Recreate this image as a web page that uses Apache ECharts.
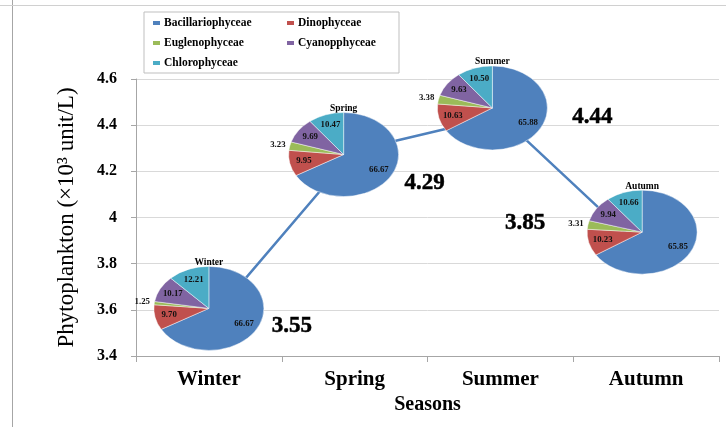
<!DOCTYPE html>
<html>
<head>
<meta charset="utf-8">
<script src="https://cdn.jsdelivr.net/npm/echarts@6/dist/echarts.min.js"></script>
<style>html,body{margin:0;padding:0;background:#fff}#c{width:726px;height:427px}</style>
</head>
<body>
<div id="c"></div>
<script>
// ---- data ----
const seasons = ['Winter', 'Spring', 'Summer', 'Autumn'];
const totals = [3.55, 4.29, 4.44, 3.85];
const groups = ['Bacillariophyceae', 'Dinophyceae', 'Euglenophyceae', 'Cyanopphyceae', 'Chlorophyceae'];
const bacillario = [66.67, 66.67, 65.88, 65.85];
const dino = [9.70, 9.95, 10.63, 10.23];
const eugleno = [1.25, 3.23, 3.38, 3.31];
const cyano = [10.17, 9.69, 9.63, 9.94];
const chloro = [12.21, 10.47, 10.50, 10.66];
const yTicks = {min: 3.4, max: 4.6, step: 0.2};

// ---- layout / style ----
const shareSets = [bacillario, dino, eugleno, cyano, chloro];
const colors = ['#4F81BD', '#C0504D', '#9BBB59', '#8064A2', '#4BACC6'];
const pieShift = [[0, -13], [-11, 4], [-8, -8], [-4, -20]];
const valueLabelShift = [[83, 5], [70, 33], [92, 1], [-121, -29]];
const RX = 55, RY = 42;
const SERIF = '"Liberation Serif", "DejaVu Serif", serif';

function renderSlice(g, i, api) {
  const p = api.coord([api.value(0), api.value(1)]);
  const cx = p[0] + pieShift[i][0];
  const cy = p[1] + pieShift[i][1];
  let sum = 0, cum = 0;
  for (let k = 0; k < shareSets.length; k++) {
    sum += shareSets[k][i];
    if (k < g) cum += shareSets[k][i];
  }
  const v = api.value(2);
  const a0 = -Math.PI / 2 + 2 * Math.PI * cum / sum;
  const a1 = a0 + 2 * Math.PI * v / sum;
  const mid = (a0 + a1) / 2;
  const f = g === 2 ? 1.22 : 0.74;
  const children = [{
    type: 'sector',
    x: cx, y: cy, scaleX: RX / RY, scaleY: 1,
    shape: {cx: 0, cy: 0, r0: 0, r: RY, startAngle: a0, endAngle: a1, clockwise: true},
    style: {fill: colors[g], stroke: '#ffffff', lineWidth: 0.4}
  }, {
    type: 'text',
    x: cx + Math.cos(mid) * RX * f,
    y: cy + Math.sin(mid) * RY * f,
    style: {text: v.toFixed(2), fill: '#111', fontFamily: SERIF, fontWeight: 'bold', fontSize: 8.8,
            align: 'center', verticalAlign: 'middle'}
  }];
  if (g === 0) {
    children.push({
      type: 'text', x: cx, y: cy - RY - 4,
      style: {text: seasons[i], fill: '#000', fontFamily: SERIF, fontWeight: 'bold', fontSize: 9.5,
              align: 'center', verticalAlign: 'middle'}
    });
  }
  return {type: 'group', children: children};
}

const chart = echarts.init(document.getElementById('c'), null, {renderer: 'canvas'});
const series = [{
  type: 'line',
  z: 2,
  data: totals,
  showSymbol: true,
  symbol: 'circle',
  symbolSize: 4,
  lineStyle: {color: colors[0], width: 2.5},
  itemStyle: {color: colors[0]},
  label: {show: false},
  silent: true
}, {
  type: 'scatter',
  z: 4,
  data: totals,
  symbol: 'circle',
  symbolSize: 2,
  itemStyle: {color: 'rgba(0,0,0,0)'},
  label: {show: true, position: 'inside', color: '#000', opacity: 1, fontFamily: SERIF, fontWeight: 'bold', fontSize: 23,
          textBorderColor: '#000', textBorderWidth: 0.5,
          formatter: p => Number(p.value).toFixed(2)},
  labelLayout: function (params) {
    const d = valueLabelShift[params.dataIndex];
    return {dx: d[0], dy: d[1], hideOverlap: false, moveOverlap: null};
  },
  silent: true
}];
groups.forEach((name, g) => {
  series.push({
    type: 'custom',
    name: name,
    z: 3,
    itemStyle: {color: colors[g]},
    encode: {x: 0, y: 1},
    data: seasons.map((s, i) => [i, totals[i], shareSets[g][i]]),
    renderItem: function (params, api) {
      return renderSlice(g, params.dataIndex, api);
    },
    silent: true
  });
});

const legendWideCol = {width: 115};
const legendNarrowCol = {width: 95};
chart.setOption({
  animation: false,
  backgroundColor: '#ffffff',
  grid: {left: 136, right: 7, top: 79, bottom: 71},
  legend: {
    data: groups.map((n, k) => ({name: n, textStyle: (k === 1 || k === 3) ? legendNarrowCol : legendWideCol})),
    left: 144, top: 12, width: 250,
    orient: 'horizontal',
    padding: [5, 6, 4, 9],
    itemGap: 8,
    itemWidth: 7, itemHeight: 4, icon: 'rect',
    backgroundColor: '#fff', borderColor: '#bfbfbf', borderWidth: 1, borderRadius: 0,
    textStyle: {fontFamily: SERIF, fontWeight: 'bold', fontSize: 11.5, color: '#000', lineHeight: 11.5, padding: [0,0,0,-1]}
  },
  xAxis: {
    type: 'category', data: seasons, boundaryGap: true,
    axisLine: {lineStyle: {color: '#a6a6a6'}},
    axisTick: {show: true, length: 6, alignWithLabel: false, lineStyle: {color: '#a6a6a6'}},
    axisLabel: {color: '#000', fontFamily: SERIF, fontWeight: 'bold', fontSize: 21, margin: 13},
    name: 'Seasons', nameLocation: 'middle', nameGap: 38,
    nameTextStyle: {color: '#000', fontFamily: SERIF, fontWeight: 'bold', fontSize: 20}
  },
  yAxis: {
    type: 'value', min: yTicks.min, max: yTicks.max, interval: yTicks.step,
    axisLine: {show: true, lineStyle: {color: '#a6a6a6'}},
    axisTick: {show: true, length: 5, lineStyle: {color: '#a6a6a6'}},
    splitLine: {show: true, lineStyle: {color: '#d9d9d9', width: 1}},
    axisLabel: {color: '#000', fontFamily: SERIF, fontWeight: 'bold', fontSize: 16, margin: 19,
                formatter: v => String(Math.round(v * 10) / 10)},
    name: 'Phytoplankton (×10³ unit/L)', nameLocation: 'middle', nameGap: 58, nameRotate: 90,
    nameTextStyle: {color: '#000', fontFamily: SERIF, fontSize: 23}
  },
  graphic: [
    {type: 'line', shape: {x1: 12.5, y1: 0, x2: 12.5, y2: 427}, style: {stroke: '#a6a6a6', lineWidth: 1}, silent: true},
    {type: 'line', shape: {x1: 0, y1: 5.5, x2: 726, y2: 5.5}, style: {stroke: '#d0d0d0', lineWidth: 1}, silent: true}
  ],
  series: series
});
</script>
</body>
</html>
